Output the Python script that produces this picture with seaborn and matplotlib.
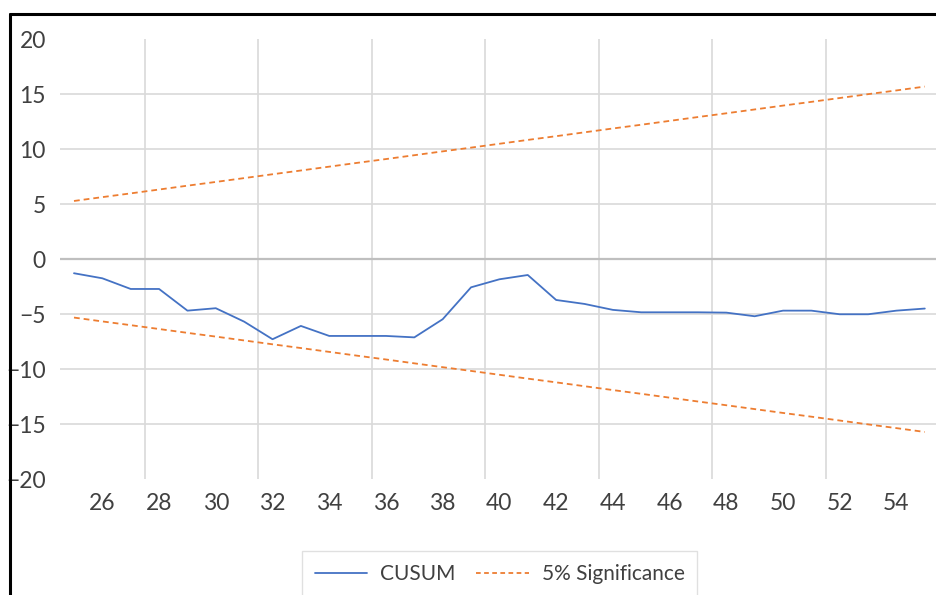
#!/usr/bin/env python
"""
CUSUM stability test chart with 5% significance bounds
"""

import pandas as pd
import matplotlib.pyplot as plt
import seaborn as sns
from matplotlib.lines import Line2D

# Observation index (category axis)
PERIODS = [25, 26, 27, 28, 29, 30, 31, 32, 33, 34, 35, 36, 37, 38, 39, 40,
           41, 42, 43, 44, 45, 46, 47, 48, 49, 50, 51, 52, 53, 54, 55]

# CUSUM statistic
CUSUM = [-1.27, -1.73, -2.70, -2.70, -4.67, -4.45, -5.67, -7.27, -6.06, -6.97,
         -6.97, -6.97, -7.10, -5.45, -2.55, -1.82, -1.43, -3.70, -4.06, -4.60,
         -4.82, -4.82, -4.82, -4.85, -5.18, -4.67, -4.67, -5.00, -5.00, -4.67,
         -4.48]

# 5% significance bounds
UPPER = [5.30, 5.65, 5.99, 6.34, 6.69, 7.03, 7.38, 7.73, 8.07, 8.42, 8.77,
         9.11, 9.46, 9.81, 10.15, 10.50, 10.85, 11.19, 11.54, 11.89, 12.23,
         12.58, 12.93, 13.27, 13.62, 13.97, 14.31, 14.66, 15.01, 15.35, 15.70]
LOWER = [-5.30, -5.65, -5.99, -6.34, -6.69, -7.03, -7.38, -7.73, -8.07, -8.42,
         -8.77, -9.11, -9.46, -9.81, -10.15, -10.50, -10.85, -11.19, -11.54,
         -11.89, -12.23, -12.58, -12.93, -13.27, -13.62, -13.97, -14.31, -14.66,
         -15.01, -15.35, -15.70]

X_LABELS = [26, 28, 30, 32, 34, 36, 38, 40, 42, 44, 46, 48, 50, 52, 54]
Y_LABELS = [-20, -15, -10, -5, 0, 5, 10, 15, 20]

BLUE = '#4472C4'
ORANGE = '#ED7D31'
GRID = '#D9D9D9'
TEXT = '#404040'

df = pd.DataFrame({'period': PERIODS, 'cusum': CUSUM,
                   'upper': UPPER, 'lower': LOWER})

# Style
sns.set_style('white')
plt.rcParams['font.family'] = ['Lato', 'DejaVu Sans']

fig = plt.figure(figsize=(9.36, 5.95), dpi=100)
ax = fig.add_axes([0.0639, 0.1945, 0.9393, 0.7395])

dash = (0, (3.2, 2.2))
sns.lineplot(data=df, x='period', y='cusum', color=BLUE, linewidth=1.3, ax=ax)
sns.lineplot(data=df, x='period', y='upper', color=ORANGE, linewidth=1.3,
             linestyle=dash, ax=ax)
sns.lineplot(data=df, x='period', y='lower', color=ORANGE, linewidth=1.3,
             linestyle=dash, ax=ax)

# Axes limits and ticks
ax.set_xlim(24.5, 55.5)
ax.set_ylim(-20, 20)
ax.set_xticks(X_LABELS)
ax.set_xticks([27.5, 31.5, 35.5, 39.5, 43.5, 47.5, 51.5], minor=True)
ax.set_yticks(Y_LABELS)
ax.set_xlabel('')
ax.set_ylabel('')
ax.tick_params(axis='both', which='both', length=0, labelsize=16.5,
               labelcolor=TEXT)
ax.tick_params(axis='x', pad=10)
ax.tick_params(axis='y', pad=10)

# Gridlines: horizontal at major y, vertical between category groups
ax.grid(False)
ax.yaxis.grid(True, which='major', color=GRID, linewidth=1.2)
ax.xaxis.grid(True, which='minor', color=GRID, linewidth=1.2)
gl = ax.yaxis.get_gridlines()
gl[0].set_visible(False)
gl[-1].set_visible(False)
ax.axhline(0, color='#BFBFBF', linewidth=1.6, zorder=1)
ax.set_axisbelow(True)
for s in ax.spines.values():
    s.set_visible(False)

# Legend at the bottom
handles = [Line2D([], [], color=BLUE, linewidth=1.3),
           Line2D([], [], color=ORANGE, linewidth=1.3, linestyle=(0, (2.6, 1.9)))]
leg = fig.legend(handles, ['CUSUM', '5% Significance'], ncol=2,
                 loc='upper center', bbox_to_anchor=(0.534, 1 - 541 / 595),
                 fontsize=15, frameon=True, fancybox=False,
                 handlelength=2.5, handletextpad=0.65, columnspacing=1.0,
                 borderpad=0.6)
leg.get_frame().set_edgecolor(GRID)
leg.get_frame().set_linewidth(1.0)
for t in leg.get_texts():
    t.set_color(TEXT)

# Outer border (left and top only, the rest is cropped)
fig.add_artist(Line2D([10 / 936, 10 / 936], [0, 1 - 14 / 595],
                      color='black', linewidth=2.2, transform=fig.transFigure))
fig.add_artist(Line2D([10 / 936, 1], [1 - 14 / 595, 1 - 14 / 595],
                      color='black', linewidth=2.2, transform=fig.transFigure))

plt.savefig('out.png', dpi=100)
plt.close()
